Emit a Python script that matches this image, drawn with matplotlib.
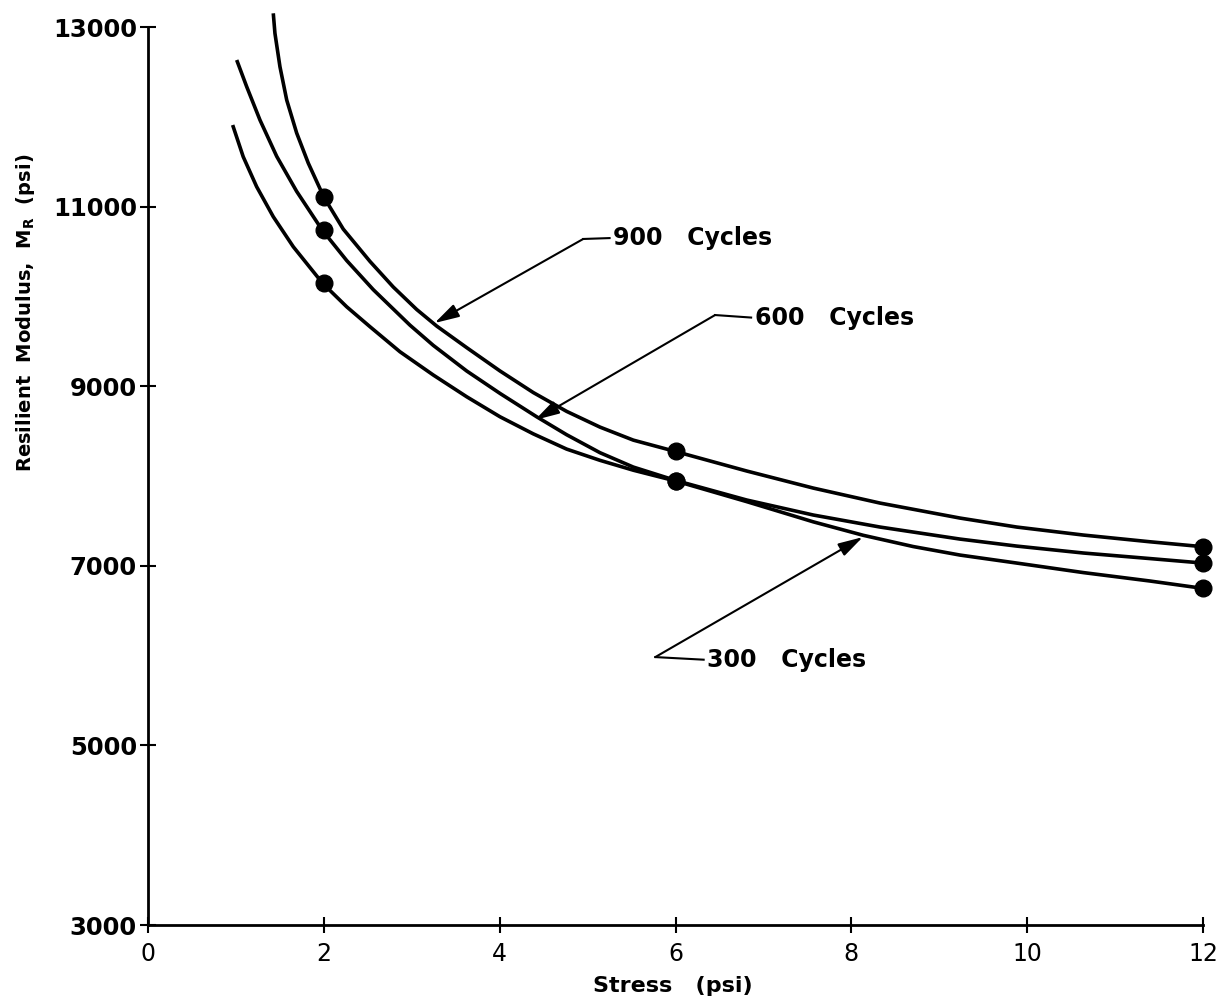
import matplotlib
matplotlib.use("Agg")
import matplotlib.pyplot as plt

# ── Data ──────────────────────────────────────────────────────────────────
# measured points
stress_pts = [2, 6, 12]
mr_900_pts = [11110, 8278, 7213]
mr_600_pts = [10740, 7950, 7031]
mr_300_pts = [10146, 7944, 6749]

# traced fitted curves
x_900 = [1.425, 1.444, 1.501, 1.578, 1.691, 1.823, 2.0, 2.221, 2.525, 2.790,
         3.056, 3.284, 3.625, 4.004, 4.382, 4.762, 5.141, 5.520, 5.983, 6.810,
         7.567, 8.326, 9.236, 9.881, 10.638, 11.397, 12.0]
y_900 = [13153, 12930, 12558, 12187, 11820, 11485, 11107, 10750, 10390, 10105,
         9855, 9670, 9430, 9170, 8930, 8720, 8545, 8400, 8278, 8056,
         7866, 7699, 7532, 7432, 7343, 7268, 7213]
x_600 = [1.009, 1.123, 1.274, 1.464, 1.691, 1.982, 2.260, 2.563, 2.980, 3.245,
         3.625, 4.004, 4.421, 4.762, 5.141, 5.520, 6.005, 6.810, 7.567, 8.326,
         9.236, 9.881, 10.638, 11.397, 12.0]
y_600 = [12633, 12335, 11964, 11560, 11170, 10739, 10400, 10075, 9680, 9455,
         9170, 8920, 8660, 8460, 8260, 8100, 7950, 7733, 7566, 7432,
         7298, 7220, 7143, 7081, 7031]
x_300 = [0.963, 1.083, 1.236, 1.425, 1.653, 1.987, 2.260, 2.525, 2.866, 3.245,
         3.625, 4.004, 4.382, 4.762, 5.141, 5.520, 6.005, 6.810, 7.567, 8.136,
         8.703, 9.236, 9.881, 10.638, 11.397, 12.0]
y_300 = [11909, 11556, 11222, 10888, 10553, 10146, 9885, 9663, 9384, 9125,
         8883, 8660, 8470, 8300, 8175, 8065, 7944, 7715, 7490, 7340,
         7215, 7120, 7031, 6925, 6831, 6749]

xticks = [0, 2, 4, 6, 8, 10, 12]
yticks = [3000, 5000, 7000, 9000, 11000, 13000]

# labels: (text, arrow tip, elbow, text position)
labels = [
    ("900   Cycles", (3.26, 9704), (4.95, 10640), (5.29, 10650)),
    ("600   Cycles", (4.40, 8624), (6.45, 9793), (6.90, 9765)),
    ("300   Cycles", (8.13, 7320), (5.77, 5984), (6.36, 5955)),
]

FONT = "DejaVu Sans"
INK = "black"

fig = plt.figure(figsize=(12.21, 10.02), dpi=100)
ax = fig.add_axes([0.1212, 0.0768, 0.8641, 0.8962])

for xs, ys in [(x_900, y_900), (x_600, y_600), (x_300, y_300)]:
    ax.plot(xs, ys, color=INK, lw=2.6, solid_joinstyle="round",
            solid_capstyle="butt", clip_on=False)
for ys in [mr_900_pts, mr_600_pts, mr_300_pts]:
    ax.plot(stress_pts, ys, "o", color=INK, ms=12, clip_on=False, zorder=5)

# leader lines with arrow heads
for text, tip, elbow, tpos in labels:
    ax.annotate("", xy=tip, xytext=elbow,
                arrowprops=dict(arrowstyle="-|>,head_length=1.5,head_width=0.42",
                                color=INK, lw=1.5, shrinkA=0, shrinkB=0))
    ax.plot([elbow[0], tpos[0] - 0.04], [elbow[1], tpos[1]], color=INK, lw=1.5)
    ax.text(tpos[0], tpos[1], text, fontsize=17, fontweight="bold",
            family=FONT, va="center", ha="left", color=INK)

ax.set_xlim(0, 12)
ax.set_ylim(3000, 13000)
ax.set_xticks(xticks)
ax.set_yticks(yticks)
ax.set_xticklabels([str(v) for v in xticks], fontsize=17, family=FONT)
ax.set_yticklabels([str(v) for v in yticks], fontsize=17.5, family=FONT,
                   fontweight="bold")
ax.tick_params(direction="inout", length=12, width=1.5, colors=INK)
ax.tick_params(axis="y", pad=2)
ax.tick_params(axis="x", pad=6)
ax.spines["top"].set_visible(False)
ax.spines["right"].set_visible(False)
ax.spines["left"].set_linewidth(2)
ax.spines["bottom"].set_linewidth(2)

fig.text(0.551, 0.006, "Stress   (psi)", fontsize=16, fontweight="bold",
         family=FONT, ha="center", va="bottom")
fig.text(0.021, 0.688, r"Resilient  Modulus,  M$_\mathregular{R}$  (psi)",
         fontsize=14, fontweight="bold", family=FONT, rotation=90,
         ha="center", va="center")

fig.savefig("out.png", dpi=100, facecolor="white")
